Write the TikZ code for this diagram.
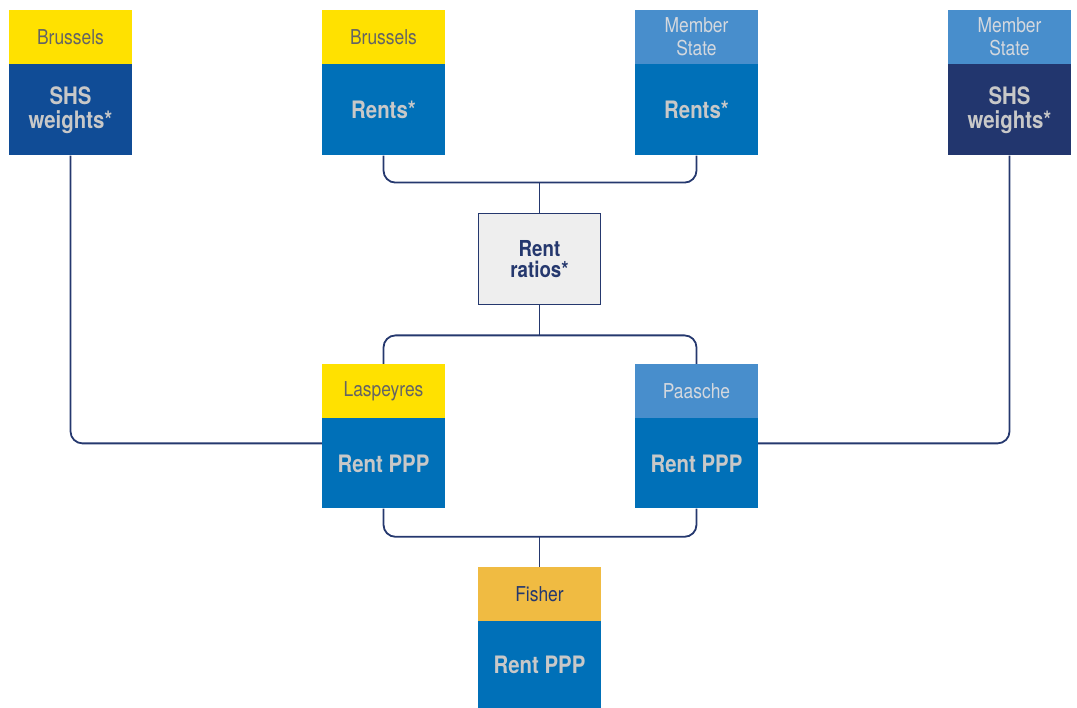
\documentclass[tikz,border=0pt]{standalone}
\usepackage{fontspec}
\setmainfont{TeX Gyre Heros}[FakeStretch=0.85]
\definecolor{euYellow}{RGB}{255, 225, 0}
\definecolor{euBlue}{RGB}{0, 112, 184}
\definecolor{msBlue}{RGB}{72, 142, 204}
\definecolor{shsBlue}{RGB}{16, 76, 150}
\definecolor{shsNavy}{RGB}{34, 54, 110}
\definecolor{fisherGold}{RGB}{240, 187, 66}
\definecolor{lineNavy}{RGB}{37, 56, 110}
\definecolor{ratioGray}{RGB}{238, 238, 238}
\definecolor{headGray}{RGB}{100, 100, 100}
\definecolor{bodyGray}{RGB}{200, 200, 200}
\definecolor{msText}{RGB}{212, 216, 222}
\usepackage{tikz}
\usetikzlibrary{positioning, calc}

\begin{document}
\begin{tikzpicture}[x=1pt, y=-1pt,
    head/.style={minimum width=123pt, minimum height=54pt, inner sep=0pt,
                 align=center, font=\fontsize{20.5}{23}\selectfont, text=headGray},
    body/.style={minimum width=123pt, minimum height=91pt, inner sep=0pt,
                 align=center, font=\bfseries\fontsize{24}{24}\selectfont, text=bodyGray},
    link/.style={draw=lineNavy, line width=1.8pt, rounded corners=12pt}
  ]
    \useasboundingbox (0,0) rectangle (1077,708);

    % sources
    \node[head, fill=euYellow] (hBruW) at (70.5,37) {Brussels};
    \node[body, fill=shsBlue, below=0pt of hBruW] (bBruW) {SHS\\weights*};
    \node[head, fill=euYellow] (hBruR) at (383.5,37) {Brussels};
    \node[body, fill=euBlue, below=0pt of hBruR] (bBruR) {Rents*};
    \node[head, fill=msBlue, text=msText] (hMsR) at (696.5,37) {Member\\State};
    \node[body, fill=euBlue, below=0pt of hMsR] (bMsR) {Rents*};
    \node[head, fill=msBlue, text=msText] (hMsW) at (1009.5,37) {Member\\State};
    \node[body, fill=shsNavy, below=0pt of hMsW] (bMsW) {SHS\\weights*};

    % ratios
    \node[draw=lineNavy, line width=1.8pt, fill=ratioGray, minimum width=122pt,
          minimum height=91pt, align=center, text=lineNavy,
          font=\bfseries\fontsize{22}{21}\selectfont] (ratio) at (539.5,259) {Rent\\ratios*};

    % indices
    \node[head, fill=euYellow] (hLasp) at (383.5,391) {Laspeyres};
    \node[body, fill=euBlue, minimum height=90pt, below=0pt of hLasp] (bLasp) {Rent PPP};
    \node[head, fill=msBlue, text=msText] (hPaas) at (696.5,391) {Paasche};
    \node[body, fill=euBlue, minimum height=90pt, below=0pt of hPaas] (bPaas) {Rent PPP};
    \node[head, fill=fisherGold, text=lineNavy] (hFish) at (539.5,594) {Fisher};
    \node[body, fill=euBlue, minimum height=87pt, below=0pt of hFish] (bFish) {Rent PPP};

    % junctions
    \coordinate (jTop) at ($(ratio.north)+(0,-30)$);
    \coordinate (jMid) at ($(ratio.south)+(0,30)$);
    \coordinate (jBot) at ($(hFish.north)+(0,-30)$);

    \draw[link] (bBruR.south) |- (jTop) -| (bMsR.south);
    \draw[link] (jTop) -- (ratio.north);
    \draw[link] (hLasp.north) |- (jMid) -| (hPaas.north);
    \draw[link] (ratio.south) -- (jMid);
    \draw[link] (bBruW.south) |- ([yshift=20pt]bLasp.west);
    \draw[link] (bMsW.south) |- ([yshift=20pt]bPaas.east);
    \draw[link] (bLasp.south) |- (jBot) -| (bPaas.south);
    \draw[link] (jBot) -- (hFish.north);
  \end{tikzpicture}
\end{document}
